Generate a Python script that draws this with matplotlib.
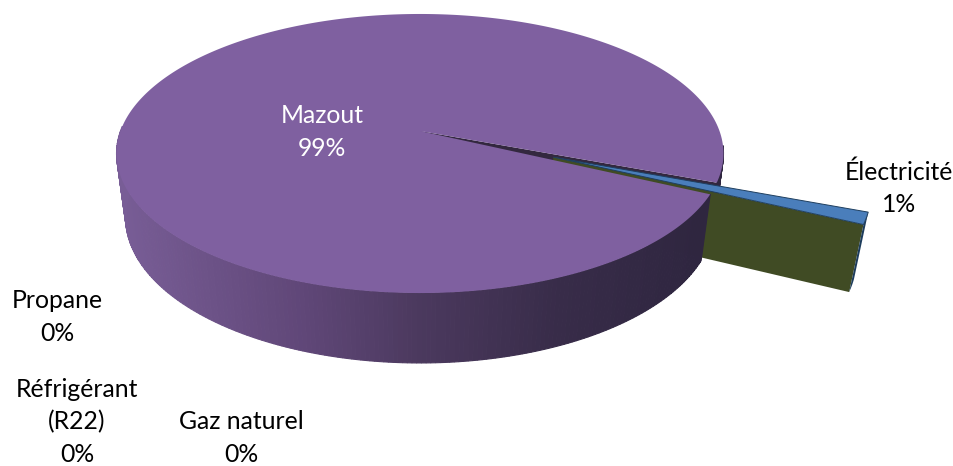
import numpy as np
import matplotlib
matplotlib.use("Agg")
import matplotlib.pyplot as plt

categories = ["Électricité", "Réfrigérant\n(R22)", "Gaz naturel", "Mazout", "Propane"]
values = [1.3, 0.0, 0.0, 98.7, 0.0]
label_x = [899, 77, 241, 322, 57]
label_y = [188, 422, 438, 132, 317]
label_col = ["black", "black", "black", "white", "black"]

# camera of the fake 3d pie, fitted on the picture
cx, cy = 420, 131
rx, ry = 299.5, 135.9
persp = 0.1613
taper = 0.03
depth = 65.6
start = -21
explode = 0.47

def proj(X, Y, Z):
    w = 1 + persp * Y + taper * Z
    return np.column_stack([cx + rx * X / w * np.ones_like(w), cy + (-ry * Y + depth * Z) / w])

def rim(a, ox=0.0, oy=0.0, Z=0.0):
    a = np.radians(np.atleast_1d(a))
    return proj(ox + np.cos(a), oy + np.sin(a), Z * np.ones_like(a))

def side_col(x):
    # dark to the right, lighter to the left
    r = np.interp(x, [118, 300, 420, 560, 700], [0x78, 0x60, 0x4b, 0x38, 0x2f])
    g = np.interp(x, [118, 300, 420, 560, 700], [0x5d, 0x47, 0x39, 0x2c, 0x26])
    b = np.interp(x, [118, 300, 420, 560, 700], [0x96, 0x78, 0x5e, 0x49, 0x40])
    return (r / 255, g / 255, b / 255)

def side(ax, a0, a1, n=90, z=3):
    angs = np.linspace(a0, a1, n + 1)
    for k in range(n):
        aa = np.linspace(angs[k], angs[k + 1], 3)
        top = rim(aa)
        bot = rim(aa, Z=1.0)
        pts = np.vstack([top, bot[::-1]])
        ax.fill(pts[:, 0], pts[:, 1], color=side_col(top[:, 0].mean()), lw=0.8, zorder=z)

fig = plt.figure(figsize=(9.54, 4.66), dpi=100)
ax = fig.add_axes([0, 0, 1, 1])
ax.set_xlim(0, 954)
ax.set_ylim(466, 0)
ax.axis("off")

angle = np.cumsum([0] + values) * -3.6 + start
e0, e1 = angle[0], angle[1]   # electricity
m0, m1 = angle[3], angle[4]   # mazout

# back part of the mazout wall, seen through the gap
side(ax, e0, e0 + 15, n=15, z=1)
o = rim(e0)
wall = np.vstack([proj(np.array([0.0]), np.array([0.0]), np.array([0.0])), o,
                  rim(e0, Z=1.0), proj(np.array([0.0]), np.array([0.0]), np.array([1.0]))])
ax.fill(wall[:, 0], wall[:, 1], color="#33283f", lw=0, zorder=1)

# exploded electricity slice
mid = np.radians((e0 + e1) / 2)
ox, oy = explode * np.cos(mid), explode * np.sin(mid)
apex_t = proj(np.array([ox]), np.array([oy]), np.array([0.0]))
apex_b = proj(np.array([ox]), np.array([oy]), np.array([1.0]))

# zero width gaz naturel slice gives the green wall
g = np.vstack([apex_t, rim(e1, ox, oy), rim(e1, ox, oy, 1.0), apex_b])
ax.fill(g[:, 0], g[:, 1], color="#404b24", lw=0, zorder=2)

arc = np.linspace(e0, e1, 8)
s = np.vstack([rim(arc, ox, oy), rim(arc, ox, oy, 1.0)[::-1]])
ax.fill(s[:, 0], s[:, 1], color="#1d3c5c", lw=0, zorder=2)
t = np.vstack([apex_t, rim(arc, ox, oy)])
ax.fill(t[:, 0], t[:, 1], facecolor="#4a7ebb", edgecolor="#1f3f5f", lw=0.7, zorder=2.5)

# front of the mazout slice, then its top
side(ax, e1, -182, n=200, z=3)
arc = np.linspace(m0, m1, 360)
t = np.vstack([proj(np.array([0.0]), np.array([0.0]), np.array([0.0])), rim(arc)])
ax.fill(t[:, 0], t[:, 1], color="#7f60a0", lw=0, zorder=4)

for i in range(len(categories)):
    ax.text(label_x[i], label_y[i], categories[i] + "\n%.0f%%" % values[i], family="Lato", fontsize=17.8,
            color=label_col[i], ha="center", va="center", linespacing=1.5, zorder=5)

fig.savefig("out.png", dpi=100)
